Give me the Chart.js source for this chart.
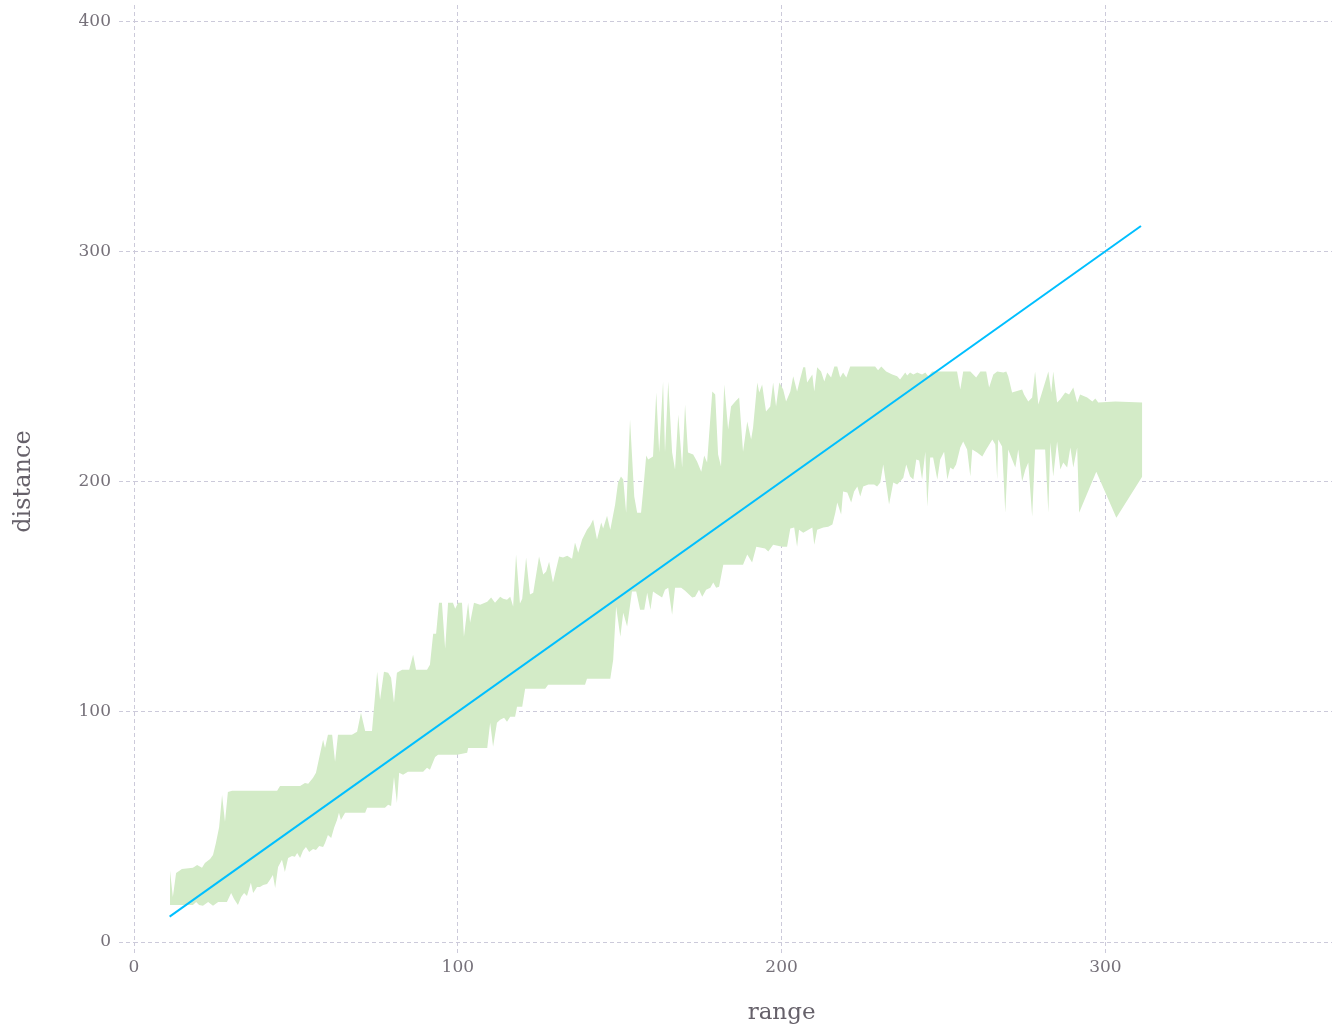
<!DOCTYPE html>
<html>
<head>
<meta charset="utf-8">
<script src="https://cdn.jsdelivr.net/npm/chart.js@4.4.0/dist/chart.umd.min.js"></script>
<style>
    html, body { margin: 0; padding: 0; background: #ffffff; }
    #wrap { width: 1332px; height: 1029px; }
</style>
</head>
<body>
<div id="wrap"><canvas id="rangeChart" width="1332" height="1029"></canvas></div>
<script>
// band upper edge (range, distance)
const upperX = [11.1, 12.0, 13.0, 14.8, 18.2, 19.5, 21.0, 21.9, 23.5, 24.4, 25.3, 26.3, 27.2, 28.1, 29.0, 30.3, 44.2, 45.1, 51.3, 52.8, 53.8, 55.3, 56.2,
    58.4, 59.0, 59.9, 61.2, 62.1, 63.0, 67.3, 68.9, 70.1, 71.4, 73.5, 75.1, 76.0, 77.2, 78.5, 79.4, 80.3, 81.2, 82.8, 85.0, 86.2, 87.1, 90.5, 91.4,
    92.4, 93.3, 94.2, 95.1, 96.1, 97.0, 98.5, 99.2, 100.1, 101.3, 101.9, 103.2, 103.8, 105.0, 106.9, 109.1, 110.3, 111.5, 113.1, 114.0, 115.2, 116.2,
    117.1, 118.0, 119.2, 119.9, 121.1, 122.3, 123.3, 125.1, 126.4, 127.3, 128.2, 129.4, 130.1, 131.3, 132.5, 133.8, 135.3, 136.2, 137.2, 138.4, 139.9,
    140.9, 141.8, 143.0, 144.3, 144.9, 146.1, 147.1, 148.6, 149.5, 150.4, 151.1, 152.0, 153.2, 154.5, 155.4, 156.6, 157.2, 158.2, 158.8, 160.3, 161.3,
    162.2, 163.4, 164.0, 165.0, 166.2, 167.1, 168.1, 169.3, 170.2, 171.1, 172.7, 173.9, 175.2, 176.1, 177.0, 178.6, 179.5, 180.4, 181.3, 182.3, 183.5,
    184.4, 185.7, 186.9, 188.1, 189.4, 190.6, 191.2, 192.5, 193.1, 194.0, 195.2, 196.5, 197.4, 198.3, 199.3, 200.5, 201.4, 202.7, 203.6, 204.8, 205.7,
    206.7, 207.3, 207.9, 209.5, 210.1, 211.0, 212.2, 213.2, 214.1, 215.3, 216.3, 217.2, 218.1, 219.0, 220.0, 221.2, 228.9, 229.8, 230.8, 232.3, 234.2,
    235.7, 236.6, 238.2, 238.8, 239.7, 240.7, 241.9, 243.4, 244.4, 245.3, 246.5, 248.1, 254.2, 255.2, 256.1, 258.3, 260.1, 261.4, 263.2, 264.1, 265.4,
    266.6, 268.5, 269.4, 270.0, 271.2, 272.2, 274.3, 274.9, 276.2, 277.4, 278.3, 279.3, 282.4, 283.3, 283.9, 285.1, 286.1, 287.6, 288.8, 290.1, 291.3,
    292.2, 294.4, 296.0, 296.9, 297.8, 303.1, 311.4];
const upperY = [31.3, 19.6, 30.0, 31.7, 32.2, 33.5, 32.2, 34.3, 36.1, 37.8, 43.0, 50.0, 63.9, 52.2, 65.2, 65.7, 65.7, 67.8, 67.8, 69.1, 68.7, 71.3, 73.5,
    87.8, 84.3, 90.0, 90.0, 78.3, 90.0, 90.0, 91.3, 99.6, 91.7, 91.7, 117.4, 105.2, 117.4, 117.0, 114.8, 103.9, 117.0, 118.3, 118.3, 124.8, 118.3, 118.3, 120.4,
    133.9, 133.9, 147.4, 147.4, 127.4, 147.4, 147.4, 144.8, 147.4, 147.4, 132.6, 147.4, 138.7, 147.4, 146.5, 147.8, 149.6, 147.4, 150.0, 149.1, 148.7, 150.0,
    145.7, 168.3, 147.0, 149.1, 167.0, 150.9, 151.7, 167.4, 159.6, 160.9, 165.2, 156.1, 160.4, 167.4, 167.0, 167.8, 166.5, 173.5, 169.1, 174.8, 179.1,
    180.9, 183.5, 174.8, 182.2, 179.6, 185.2, 179.1, 190.0, 199.6, 202.2, 200.9, 186.5, 227.0, 193.5, 186.5, 186.5, 195.2, 211.3, 209.6, 210.9, 238.7,
    212.6, 243.5, 212.6, 243.5, 212.6, 205.2, 229.1, 206.1, 233.5, 212.6, 211.7, 208.7, 204.3, 211.3, 208.3, 239.1, 237.8, 211.7, 206.5, 242.2, 222.6,
    232.6, 234.8, 236.5, 213.0, 226.1, 218.3, 223.5, 243.0, 238.7, 242.2, 230.4, 232.6, 243.0, 232.6, 243.0, 240.0, 234.8, 239.1, 245.7, 239.1, 244.3,
    249.6, 249.6, 243.0, 246.5, 239.1, 249.6, 247.8, 243.5, 247.4, 245.2, 250.0, 250.0, 245.2, 247.4, 245.2, 250.0, 250.0, 248.3, 250.0, 247.8, 246.5,
    245.7, 244.3, 247.4, 246.1, 247.4, 246.5, 247.4, 246.5, 247.4, 245.7, 247.8, 247.8, 247.8, 240.0, 247.8, 247.8, 245.2, 247.8, 247.8, 240.9, 246.5,
    247.8, 247.4, 247.8, 245.7, 238.7, 239.1, 240.0, 237.8, 234.8, 236.5, 247.8, 233.5, 247.8, 238.7, 247.8, 234.3, 235.7, 238.7, 237.8, 240.9, 234.3,
    237.8, 236.5, 234.8, 236.1, 234.3, 234.8, 234.3];

// band lower edge
const lowerX = [11.1, 18.2, 19.2, 20.1, 21.3, 22.9, 24.4, 26.0, 28.7, 30.0, 30.9, 32.1, 33.1, 34.0, 34.9, 36.1, 36.8, 38.0, 38.9, 39.9, 41.1, 42.0, 42.9,
    43.6, 44.5, 45.7, 46.6, 47.6, 48.8, 49.7, 50.4, 51.3, 52.2, 53.1, 54.1, 55.3, 56.2, 57.2, 58.4, 59.0, 59.9, 60.9, 61.8, 62.7, 63.3, 63.9, 65.2, 71.4,
    72.0, 77.5, 78.5, 79.4, 80.3, 81.2, 81.9, 83.1, 84.6, 89.3, 90.5, 91.4, 93.0, 93.9, 99.8, 102.9, 103.2, 109.1, 110.0, 110.9, 112.1, 113.1, 114.3,
    115.2, 116.2, 117.7, 118.3, 119.9, 120.8, 127.0, 127.9, 139.3, 139.9, 147.1, 148.0, 148.9, 150.2, 151.1, 152.3, 153.8, 155.1, 156.3, 157.6, 158.5,
    159.5, 160.3, 161.3, 163.1, 164.0, 165.0, 166.2, 167.1, 169.0, 170.2, 172.4, 173.3, 174.5, 175.5, 176.7, 178.0, 178.9, 179.8, 180.7, 182.0, 188.1,
    189.4, 190.9, 192.2, 194.9, 195.9, 197.4, 200.2, 201.7, 202.7, 203.9, 204.8, 205.4, 206.7, 207.9, 209.5, 210.1, 211.0, 212.9, 214.4, 215.7, 216.6,
    217.2, 218.4, 219.0, 220.3, 221.5, 222.4, 223.4, 224.3, 225.2, 226.8, 228.6, 229.5, 230.5, 231.4, 232.3, 233.2, 234.5, 235.7, 236.6, 237.6, 238.5,
    239.7, 240.7, 241.6, 242.5, 243.4, 244.4, 245.0, 245.9, 246.8, 248.1, 249.0, 250.2, 251.2, 252.1, 253.0, 253.9, 255.2, 256.1, 257.3, 258.3, 258.9,
    260.4, 262.0, 263.2, 265.1, 266.0, 266.6, 266.9, 268.1, 269.1, 270.0, 271.2, 272.2, 273.1, 274.3, 275.3, 276.2, 277.4, 278.3, 281.4, 282.4, 283.0,
    283.9, 285.1, 286.1, 287.0, 288.2, 289.2, 290.1, 291.3, 291.9, 297.2, 303.4, 311.4];
const lowerY = [16.1, 16.1, 17.4, 16.1, 15.7, 17.4, 15.7, 17.4, 17.4, 21.3, 18.7, 16.1, 19.6, 21.3, 20.0, 25.7, 21.3, 23.9, 23.9, 24.8, 25.2, 27.0, 29.1,
    23.5, 32.6, 35.7, 30.4, 36.5, 37.4, 37.0, 38.7, 36.5, 39.6, 41.3, 39.1, 40.4, 40.0, 41.7, 41.3, 43.0, 46.5, 45.2, 49.6, 53.0, 56.1, 53.0, 56.1, 56.1,
    58.3, 58.3, 59.6, 59.1, 71.7, 60.4, 73.5, 72.6, 73.9, 73.9, 75.7, 74.8, 80.4, 81.3, 81.3, 82.2, 84.3, 84.3, 95.2, 84.8, 95.2, 96.5, 97.4,
    95.7, 97.8, 97.8, 102.2, 102.2, 110.0, 110.0, 111.7, 111.7, 114.3, 114.3, 122.6, 145.7, 132.6, 143.0, 137.0, 152.2, 152.2, 144.3, 144.3, 151.7,
    144.3, 152.2, 151.3, 149.6, 153.0, 153.9, 142.2, 153.9, 153.9, 152.6, 149.6, 150.0, 153.0, 150.0, 153.0, 153.9, 156.1, 153.9, 154.3, 163.9, 163.9,
    168.3, 164.8, 171.7, 170.9, 169.6, 172.6, 171.7, 171.7, 179.6, 180.0, 171.7, 179.1, 177.8, 178.7, 180.0, 172.6, 179.1, 180.0, 180.4, 181.3, 186.5,
    190.9, 185.7, 195.7, 195.2, 190.9, 195.7, 197.8, 193.5, 197.8, 198.7, 198.7, 197.8, 199.6, 207.4, 198.7, 190.0, 199.6, 198.7, 200.0, 201.7, 207.4,
    202.2, 200.9, 209.6, 209.1, 200.9, 213.0, 189.1, 210.4, 210.4, 200.9, 209.6, 213.0, 200.9, 206.1, 205.2, 207.4, 214.8, 217.4, 213.9, 202.2, 213.9,
    212.6, 210.9, 213.9, 218.3, 216.1, 200.9, 218.3, 215.2, 186.5, 213.9, 209.6, 206.1, 213.9, 200.0, 205.2, 208.3, 184.8, 213.9, 213.9, 186.5, 217.0,
    202.2, 217.4, 205.2, 208.3, 206.1, 214.8, 206.1, 214.8, 186.5, 204.3, 184.3, 202.2];

// reference line distance = range
const lineX = [11, 311];
const lineY = [11, 311];

const xTicks = [0, 100, 200, 300];
const yTicks = [0, 100, 200, 300, 400];

const toPoints = (xs, ys) => xs.map((x, i) => ({ x: x, y: ys[i] }));

const fontFamily = "'DejaVu Serif', 'Liberation Serif', serif";
const textColor = '#76717a';
const titleColor = '#66616a';
const gridColor = 'rgb(204, 202, 218)';

// axis titles sit at the middle of the 0..400 span, not the middle of the plot area
const axisTitles = {
    id: 'axisTitles',
    afterDraw: function(chart) {
        const ctx = chart.ctx;
        const xs = chart.scales.x;
        const ys = chart.scales.y;
        ctx.save();
        ctx.fillStyle = titleColor;
        ctx.textAlign = 'center';
        ctx.textBaseline = 'middle';
        ctx.font = "23px " + fontFamily;
        ctx.fillText('range', xs.getPixelForValue(200), 1013);
        ctx.translate(24, ys.getPixelForValue(200));
        ctx.rotate(-Math.PI / 2);
        ctx.font = "24px " + fontFamily;
        ctx.fillText('distance', 0, 0);
        ctx.restore();
    }
};

function displayChart() {
    const ctx = document.getElementById('rangeChart').getContext('2d');
    new Chart(ctx, {
        type: 'line',
        data: {
            datasets: [{
                label: 'fit',
                data: toPoints(lineX, lineY),
                borderColor: 'rgb(0, 191, 255)',
                borderWidth: 2,
                pointRadius: 0,
                fill: false,
                tension: 0
            }, {
                label: 'upper',
                data: toPoints(upperX, upperY),
                borderColor: 'rgba(0, 0, 0, 0)',
                borderWidth: 1,
                backgroundColor: 'rgb(211, 235, 199)',
                pointRadius: 0,
                fill: '+1',
                tension: 0
            }, {
                label: 'lower',
                data: toPoints(lowerX, lowerY),
                borderColor: 'rgba(0, 0, 0, 0)',
                borderWidth: 1,
                pointRadius: 0,
                fill: false,
                tension: 0
            }]
        },
        options: {
            responsive: false,
            animation: false,
            layout: { padding: { top: 5, right: 0, left: 0, bottom: 0 } },
            plugins: {
                legend: { display: false },
                tooltip: { enabled: false }
            },
            scales: {
                x: {
                    type: 'linear',
                    min: 0,
                    max: 370,
                    afterFit: function(scale) {
                        scale.height = 87;
                        scale.paddingLeft = 0;
                        scale.paddingRight = 0;
                    },
                    afterBuildTicks: function(scale) { scale.ticks = xTicks.map(v => ({ value: v })); },
                    border: { display: false, dash: [4, 3] },
                    grid: {
                        color: gridColor,
                        lineWidth: 1,
                        tickLength: 13,
                        tickColor: gridColor,
                        tickBorderDash: [4, 3]
                    },
                    ticks: {
                        color: textColor,
                        font: { family: fontFamily, size: 17 },
                        padding: 2,
                        maxRotation: 0
                    },
                    title: { display: false }
                },
                y: {
                    type: 'linear',
                    min: 0,
                    max: 407,
                    afterFit: function(scale) {
                        scale.width = 134;
                        scale.paddingTop = 0;
                        scale.paddingBottom = 0;
                    },
                    afterBuildTicks: function(scale) { scale.ticks = yTicks.map(v => ({ value: v })); },
                    border: { display: false, dash: [4, 3] },
                    grid: {
                        color: gridColor,
                        lineWidth: 1,
                        tickLength: 15,
                        tickColor: gridColor,
                        tickBorderDash: [4, 3]
                    },
                    ticks: {
                        color: textColor,
                        font: { family: fontFamily, size: 17 },
                        padding: 8
                    },
                    title: { display: false }
                }
            }
        },
        plugins: [axisTitles]
    });
}

displayChart();
</script>
</body>
</html>
